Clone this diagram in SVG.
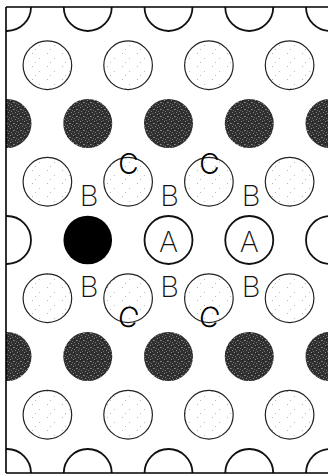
<svg xmlns="http://www.w3.org/2000/svg" width="328" height="475" viewBox="0 0 328 475">
<style>
.open{fill:#fff;stroke:#111;stroke-width:1.8}
.light{fill:url(#lightDots);stroke:#222;stroke-width:1.2}
.dark{fill:url(#darkTex);stroke:none}
.black{fill:#000;stroke:none}
.lbl{font-family:Inter,"Liberation Sans",sans-serif;font-weight:200;font-size:29px;fill:#111;text-anchor:middle}
.lblc{font-family:Inter,"Liberation Sans",sans-serif;font-weight:300;font-size:28px;fill:#000;text-anchor:middle}
.border{stroke:#000;stroke-width:1.6;fill:none}
</style>
<defs>
<pattern id="lightDots" width="15" height="13" patternUnits="userSpaceOnUse">
<rect width="15" height="13" fill="#fff"/>
<rect x="2" y="1" width="1" height="1" fill="#b5b5b5"/>
<rect x="9" y="6" width="1" height="1" fill="#c0c0c0"/>
<rect x="5" y="10" width="1" height="1" fill="#bbb"/>
</pattern>
<pattern id="darkTex" width="7" height="7" patternUnits="userSpaceOnUse">
<rect width="7" height="7" fill="#303030"/>
<rect x="1" y="0" width="1" height="1" fill="#808080"/>
<rect x="5" y="1" width="1" height="1" fill="#6a6a6a"/>
<rect x="3" y="2" width="1" height="1" fill="#909090"/>
<rect x="0" y="4" width="1" height="1" fill="#707070"/>
<rect x="6" y="4" width="1" height="1" fill="#888"/>
<rect x="2" y="5" width="1" height="1" fill="#666"/>
<rect x="4" y="6" width="1" height="1" fill="#7a7a7a"/>
<rect x="4" y="3" width="1" height="1" fill="#1a1a1a"/>
</pattern>
<clipPath id="frame"><rect x="6" y="7" width="322" height="466"/></clipPath>
</defs>
<rect width="328" height="475" fill="#fff"/>
<g clip-path="url(#frame)">
<g id="row1">
<circle class="open" cx="7" cy="7" r="24"/><circle class="open" cx="87.75" cy="7" r="24"/><circle class="open" cx="168.5" cy="7" r="24"/><circle class="open" cx="249.25" cy="7" r="24"/><circle class="open" cx="330" cy="7" r="24"/>
</g>
<g id="row2">
<circle class="light" cx="47.4" cy="65.25" r="24.3"/><circle class="light" cx="128.1" cy="65.25" r="24.3"/><circle class="light" cx="208.9" cy="65.25" r="24.3"/><circle class="light" cx="289.6" cy="65.25" r="24.3"/>
</g>
<g id="row3">
<circle class="dark" cx="7" cy="123.5" r="24.5"/><circle class="dark" cx="87.75" cy="123.5" r="24.5"/><circle class="dark" cx="168.5" cy="123.5" r="24.5"/><circle class="dark" cx="249.25" cy="123.5" r="24.5"/><circle class="dark" cx="330" cy="123.5" r="24.5"/>
</g>
<g id="row4">
<circle class="light" cx="47.4" cy="181.75" r="24.3"/><circle class="light" cx="128.1" cy="181.75" r="24.3"/><circle class="light" cx="208.9" cy="181.75" r="24.3"/><circle class="light" cx="289.6" cy="181.75" r="24.3"/>
</g>
<g id="row5">
<circle class="open" cx="7" cy="240" r="24"/>
<circle class="black" cx="87.75" cy="240" r="24.3"/>
<g id="A1"><circle class="open" cx="168.5" cy="240" r="24"/><text class="lbl" x="168.5" y="252">A</text></g>
<g id="A2"><circle class="open" cx="249.25" cy="240" r="24"/><text class="lbl" x="249.25" y="252">A</text></g>
<circle class="open" cx="330" cy="240" r="24"/>
</g>
<g id="row6">
<circle class="light" cx="47.4" cy="298.25" r="24.3"/><circle class="light" cx="128.1" cy="298.25" r="24.3"/><circle class="light" cx="208.9" cy="298.25" r="24.3"/><circle class="light" cx="289.6" cy="298.25" r="24.3"/>
</g>
<g id="row7">
<circle class="dark" cx="7" cy="356.5" r="24.5"/><circle class="dark" cx="87.75" cy="356.5" r="24.5"/><circle class="dark" cx="168.5" cy="356.5" r="24.5"/><circle class="dark" cx="249.25" cy="356.5" r="24.5"/><circle class="dark" cx="330" cy="356.5" r="24.5"/>
</g>
<g id="row8">
<circle class="light" cx="47.4" cy="414.75" r="24.3"/><circle class="light" cx="128.1" cy="414.75" r="24.3"/><circle class="light" cx="208.9" cy="414.75" r="24.3"/><circle class="light" cx="289.6" cy="414.75" r="24.3"/>
</g>
<g id="row9">
<circle class="open" cx="7" cy="473" r="24"/><circle class="open" cx="87.75" cy="473" r="24"/><circle class="open" cx="168.5" cy="473" r="24"/><circle class="open" cx="249.25" cy="473" r="24"/><circle class="open" cx="330" cy="473" r="24"/>
</g>
</g>
<g id="labels">
<text class="lbl" x="89" y="206">B</text>
<text class="lbl" x="169.5" y="206">B</text>
<text class="lbl" x="251" y="206">B</text>
<text class="lbl" x="89" y="297">B</text>
<text class="lbl" x="169.5" y="297">B</text>
<text class="lbl" x="251" y="297">B</text>
<text class="lblc" x="128.5" y="174">C</text>
<text class="lblc" x="209.5" y="174">C</text>
<text class="lblc" x="128.5" y="327" transform="rotate(15 128.5 317)">C</text>
<text class="lblc" x="209.5" y="327" transform="rotate(15 209.5 317)">C</text>
</g>
<g id="frameLines">
<path class="border" d="M6 7H328M6 7V473M6 473H328"/>
</g>
</svg>
